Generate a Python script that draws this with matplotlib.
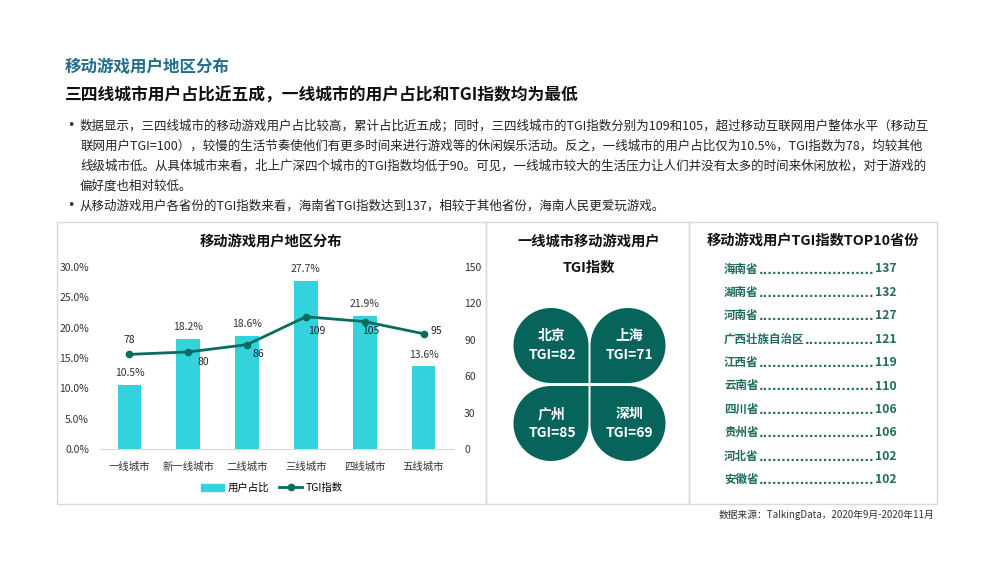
import numpy as np
import matplotlib
matplotlib.use('Agg')
import matplotlib.pyplot as plt
from matplotlib.path import Path
from matplotlib.patches import PathPatch, Rectangle
from matplotlib.lines import Line2D

plt.rcParams['font.family'] = ['Noto Sans CJK SC', 'DejaVu Sans']
plt.rcParams['axes.unicode_minus'] = False

# data
cities = ['一线城市', '新一线城市', '二线城市', '三线城市', '四线城市', '五线城市']
user_share = [10.5, 18.2, 18.6, 27.7, 21.9, 13.6]
tgi = [78, 80, 86, 109, 105, 95]

tier1_names = ['北京', '上海', '广州', '深圳']
tier1_tgi = [82, 71, 85, 69]

provinces = ['海南省', '湖南省', '河南省', '广西壮族自治区', '江西省', '云南省', '四川省', '贵州省', '河北省', '安徽省']
province_tgi = [137, 132, 127, 121, 119, 110, 106, 106, 102, 102]

bullet_lines = [
    '数据显示，三四线城市的移动游戏用户占比较高，累计占比近五成；同时，三四线城市的TGI指数分别为109和105，超过移动互联网用户整体水平（移动互',
    '联网用户TGI=100），较慢的生活节奏使他们有更多时间来进行游戏等的休闲娱乐活动。反之，一线城市的用户占比仅为10.5%，TGI指数为78，均较其他',
    '线级城市低。从具体城市来看，北上广深四个城市的TGI指数均低于90。可见，一线城市较大的生活压力让人们并没有太多的时间来休闲放松，对于游戏的',
    '偏好度也相对较低。',
    '从移动游戏用户各省份的TGI指数来看，海南省TGI指数达到137，相较于其他省份，海南人民更爱玩游戏。',
]
bullet_starts = [True, False, False, False, True]

title_color = '#1F6E8C'
bar_color = '#33D3DD'
line_color = '#0A6B5F'
leaf_color = '#06645A'
prov_color = '#1F6B5E'
border = '#D9D9D9'

W, H = 1000, 563
fig = plt.figure(figsize=(10, 5.63), dpi=100)
fig.patch.set_facecolor('white')

# overlay axes in pixel coords
ov = fig.add_axes([0, 0, 1, 1])
ov.set_xlim(0, W)
ov.set_ylim(H, 0)
ov.axis('off')

ov.text(65, 67, '移动游戏用户地区分布', fontsize=11.9, fontweight='bold', color=title_color, va='center')
ov.text(65, 96, '三四线城市用户占比近五成，一线城市的用户占比和TGI指数均为最低', fontsize=12.1, fontweight='bold',
        color='#111111', va='center')

for i, (line, b) in enumerate(zip(bullet_lines, bullet_starts)):
    y = 126 + i * 20
    if b:
        ov.text(67, y, '•', fontsize=9, color='#333333', va='center', family='DejaVu Sans')
    ov.text(80, y, line, fontsize=9.0, color='#222222', va='center')

# panel borders
for x0, x1 in [(57, 486), (486, 689), (689, 937)]:
    ov.add_patch(Rectangle((x0, 222), x1 - x0, 282, fill=False, edgecolor=border, lw=1))

# source
ov.text(934, 515, '数据来源：TalkingData，2020年9月-2020年11月', fontsize=7, style='italic',
        color='#333333', ha='right', va='center')

# ---- chart 1 ----
ax = fig.add_axes([0.100, 1 - 449 / H, 0.353, (449 - 267) / H])
x = np.arange(len(cities))
ax.bar(x, np.array(user_share) / 100, width=0.4, color=bar_color, zorder=2)
ax.set_xlim(-0.5, len(cities) - 0.5)
ax.set_ylim(0, 0.30)
ax.set_yticks(np.arange(0, 0.301, 0.05))
ax.set_yticklabels(['%.1f%%' % (v * 100) for v in np.arange(0, 0.301, 0.05)])
ax.set_xticks(x)
ax.set_xticklabels(cities)
for s in ['top', 'right', 'left']:
    ax.spines[s].set_visible(False)
ax.spines['bottom'].set_color('#D9D9D9')
ax.tick_params(axis='both', length=0, labelsize=7.5, colors='#333333')
ax.tick_params(axis='x', pad=9)
ax.tick_params(axis='y', pad=8)
for xi, v in zip(x, user_share):
    ax.annotate('%.1f%%' % v, (xi, v / 100), xytext=(0, 5), textcoords='offset points',
                ha='center', va='bottom', fontsize=7.5, color='#333333')

ax2 = ax.twinx()
ax2.plot(x, tgi, color=line_color, lw=2, marker='o', markersize=4.5, zorder=3)
ax2.set_ylim(0, 150)
ax2.set_yticks(np.arange(0, 151, 30))
for s in ax2.spines.values():
    s.set_visible(False)
ax2.tick_params(axis='y', length=0, labelsize=7.5, colors='#333333', pad=8)
label_offsets = [(0, 10), (11, -7), (8, -6.5), (8, -10), (4, -6.5), (9, 2)]
for xi, v, off in zip(x, tgi, label_offsets):
    ax2.annotate(str(v), (xi, v), xytext=off, textcoords='offset points',
                 ha='center', va='center', fontsize=7.5, color='#222222')

ov.text(271, 242, '移动游戏用户地区分布', fontsize=10.3, fontweight='bold', color='#111111',
        ha='center', va='center')
handles = [Rectangle((0, 0), 1, 1, color=bar_color),
           Line2D([0], [0], color=line_color, lw=2, marker='o', markersize=4.5)]
fig.legend(handles, ['用户占比', 'TGI指数'], loc='center', bbox_to_anchor=(272 / W, 1 - 488 / H),
           ncol=2, frameon=False, fontsize=7.5, handlelength=2.2, columnspacing=1.0, handletextpad=0.3)

# ---- panel 2: clover ----
ov.text(589, 242, '一线城市移动游戏用户', fontsize=10.3, fontweight='bold', color='#111111', ha='center', va='center')
ov.text(589, 268, 'TGI指数', fontsize=10.3, fontweight='bold', color='#111111', ha='center', va='center')

r = 37.5
centers = [(551, 345.5), (628, 345.5), (551, 423.5), (628, 423.5)]
# direction of the sharp corner (towards clover centre), pixel coords with y down
corners = [(1, 1), (-1, 1), (1, -1), (-1, -1)]
for (cx, cy), (sx, sy), name, val in zip(centers, corners, tier1_names, tier1_tgi):
    start = np.arctan2(sy, 0)
    if (sx * sy) > 0:
        angs = np.linspace(start, start + 1.5 * np.pi, 80)
    else:
        angs = np.linspace(start, start - 1.5 * np.pi, 80)
    arc = np.column_stack([cx + r * np.cos(angs), cy + r * np.sin(angs)])
    verts = np.vstack([arc, [[cx + sx * r, cy + sy * r]], [arc[0]]])
    codes = [Path.MOVETO] + [Path.LINETO] * (len(verts) - 2) + [Path.CLOSEPOLY]
    ov.add_patch(PathPatch(Path(verts, codes), facecolor=leaf_color, edgecolor='none'))
    ov.text(cx + 1, cy - 9.5, name, fontsize=10, fontweight='bold', color='white', ha='center', va='center')
    ov.text(cx + 1, cy + 9.5, 'TGI=%d' % val, fontsize=10, fontweight='bold', color='white',
            ha='center', va='center')

# ---- panel 3: top10 provinces ----
ov.text(813, 241, '移动游戏用户TGI指数TOP10省份', fontsize=10.3, fontweight='bold', color='#111111',
        ha='center', va='center')
fig.canvas.draw()
renderer = fig.canvas.get_renderer()
dot_t = ov.text(0, 0, '.' * 20, fontsize=8.5, fontweight='bold', family='DejaVu Sans')
dot_w = dot_t.get_window_extent(renderer).width / 20
dot_t.remove()
for i, (p, v) in enumerate(zip(provinces, province_tgi)):
    y = 269 + i * 23.4
    t1 = ov.text(724, y, p, fontsize=8.3, fontweight='bold', color=prov_color, va='center')
    t2 = ov.text(897, y, str(v), fontsize=8.8, fontweight='bold', color=prov_color, va='center', ha='right')
    e1 = t1.get_window_extent(renderer)
    e2 = t2.get_window_extent(renderer)
    n = int((e2.x0 - e1.x1 - 1) / dot_w)
    ov.text(e1.x1, y + 1, '.' * n, fontsize=8.5, fontweight='bold', color=prov_color,
            va='center', family='DejaVu Sans')

fig.savefig('out.png', dpi=100, facecolor='white')
